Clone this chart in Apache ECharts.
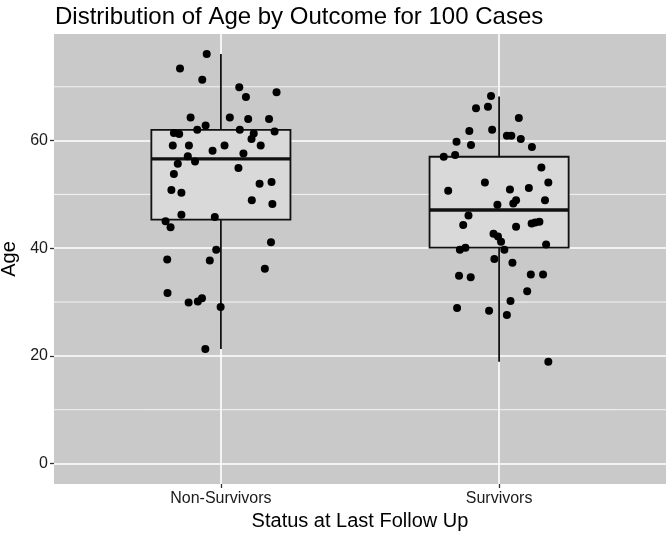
<!DOCTYPE html>
<html>
<head>
<meta charset="utf-8">
<script src="https://cdn.jsdelivr.net/npm/echarts@6/dist/echarts.min.js"></script>
<style>
html,body{margin:0;padding:0;background:#fff;}
#chart{width:666px;height:535px;}
</style>
</head>
<body>
<div id="chart"></div>
<script>
const categories = ['Non-Survivors', 'Survivors'];
const categoryPos = [1, 2];

// Non-Survivors: jittered x position (category units) and age
const nsJitter = [0.949,0.853,0.933,1.066,1.200,1.090,0.891,1.032,1.098,1.173,
  0.945,0.915,1.068,0.831,0.850,1.118,1.193,1.110,0.827,0.885,
  1.013,1.143,0.970,1.081,0.881,0.907,0.845,1.063,0.831,1.139,
  1.182,0.822,0.858,1.111,1.185,0.858,0.978,0.801,0.819,1.180,
  0.983,0.807,0.960,1.158,0.808,0.884,0.917,0.932,0.999,0.944];
const nsAge = [76.1,73.4,71.3,69.9,69.0,68.1,64.3,64.3,64.0,64.0,
  62.8,62.0,62.0,61.4,61.2,61.3,61.7,60.3,59.1,59.1,
  59.1,59.1,58.1,57.6,57.1,56.1,55.7,54.9,53.8,52.0,
  52.3,50.8,50.3,48.9,48.2,46.2,45.8,45.0,43.9,41.1,
  39.7,37.9,37.7,36.2,31.7,29.9,30.1,30.7,29.1,21.3];

// Survivors
const sJitter = [1.971,1.917,1.960,2.071,1.893,1.975,2.028,2.044,2.078,1.847,
  1.899,2.118,1.801,1.842,2.152,1.949,2.177,1.817,2.039,2.107,
  2.061,2.051,2.165,1.994,1.890,1.871,2.061,2.117,2.130,2.145,
  1.980,1.996,2.007,2.169,1.859,1.879,2.019,1.983,2.048,1.856,
  1.898,2.114,2.158,2.101,2.041,1.849,1.964,2.028,2.177];
const sAge = [68.3,66.0,66.3,64.2,61.8,62.0,60.9,60.9,60.3,59.8,
  59.2,58.8,57.0,57.3,55.0,52.2,52.2,50.7,50.9,51.2,
  48.9,48.3,48.9,48.1,46.1,44.3,44.0,44.6,44.8,44.9,
  42.7,42.2,41.2,40.7,39.7,40.1,39.7,38.0,37.3,34.9,
  34.6,35.1,35.1,32.0,30.2,28.9,28.4,27.6,18.9];

// box stats: [min, q1, median, q3, max]
const boxNS = [21.3, 45.3, 56.6, 62.0, 76.1];
const boxS  = [18.9, 40.1, 47.1, 57.0, 68.2];

const yMajor = [0, 20, 40, 60];
const yMinor = [10, 30, 50, 70];

const chart = echarts.init(document.getElementById('chart'), null, {renderer: 'canvas'});

const FONT = '"Liberation Sans", Arial, sans-serif';

function renderBox(params, api) {
  const x = api.value(0), lo = api.value(1), q1 = api.value(2), med = api.value(3), q3 = api.value(4), hi = api.value(5);
  const hw = 0.25;
  const tl = api.coord([x - hw, q3]);
  const br = api.coord([x + hw, q1]);
  const mL = api.coord([x - hw, med]);
  const mR = api.coord([x + hw, med]);
  const pHi = api.coord([x, hi]), pQ3 = api.coord([x, q3]), pQ1 = api.coord([x, q1]), pLo = api.coord([x, lo]);
  return {
    type: 'group',
    children: [
      {type: 'line', shape: {x1: pHi[0], y1: pHi[1], x2: pQ3[0], y2: pQ3[1]}, style: {stroke: '#111', lineWidth: 1.8}},
      {type: 'line', shape: {x1: pQ1[0], y1: pQ1[1], x2: pLo[0], y2: pLo[1]}, style: {stroke: '#111', lineWidth: 1.8}},
      {type: 'rect', shape: {x: tl[0], y: tl[1], width: br[0] - tl[0], height: br[1] - tl[1]}, style: {fill: '#d9d9d9', stroke: '#111', lineWidth: 1.8}},
      {type: 'line', shape: {x1: mL[0], y1: mL[1], x2: mR[0], y2: mR[1]}, style: {stroke: '#111', lineWidth: 3.4}}
    ]
  };
}

function renderMinor(params, api) {
  const v = api.value(1);
  const a = api.coord([0.4, v]);
  const b = api.coord([2.6, v]);
  return {type: 'line', shape: {x1: a[0], y1: a[1], x2: b[0], y2: b[1]}, style: {stroke: '#ffffff', lineWidth: 0.8}};
}

const option = {
  animation: false,
  backgroundColor: '#ffffff',
  textStyle: {fontFamily: FONT},
  title: {
    text: 'Distribution of Age by Outcome for 100 Cases',
    left: 50, top: 0,
    textStyle: {fontFamily: FONT, fontSize: 24, fontWeight: 'normal', color: '#000'}
  },
  grid: {left: 54, right: 0, top: 34, bottom: 51, show: true, backgroundColor: '#c9c9c9', borderWidth: 0, outerBoundsMode: 'none'},
  xAxis: {
    type: 'value', min: 0.4, max: 2.6,
    name: 'Status at Last Follow Up', nameLocation: 'middle', nameGap: 27,
    nameTextStyle: {fontFamily: FONT, fontSize: 20, color: '#000'},
    axisLine: {show: false, onZero: false},
    axisTick: {show: true, customValues: categoryPos, length: 4, lineStyle: {color: '#333', width: 1.3}},
    axisLabel: {customValues: categoryPos, formatter: v => categories[Math.round(v) - 1], fontFamily: FONT, fontSize: 16, color: '#1a1a1a', margin: 7},
    splitLine: {show: true, lineStyle: {color: '#ffffff', width: 1.6}}
  },
  yAxis: {
    type: 'value', min: -3.8, max: 79.8,
    name: 'Age', nameLocation: 'middle', nameGap: 29, nameRotate: 90,
    nameTextStyle: {fontFamily: FONT, fontSize: 20, color: '#000'},
    axisLine: {show: false, onZero: false},
    axisTick: {show: true, customValues: yMajor, length: 4, lineStyle: {color: '#333', width: 1.3}},
    axisLabel: {customValues: yMajor, fontFamily: FONT, fontSize: 16, color: '#1a1a1a', margin: 6},
    splitLine: {show: true, lineStyle: {color: '#ffffff', width: 1.6}}
  },
  series: [
    {
      type: 'custom', renderItem: renderMinor, silent: true, z: 0,
      data: yMinor.map(v => [1, v])
    },
    {
      type: 'custom', renderItem: renderBox, z: 2,
      data: [[categoryPos[0]].concat(boxNS), [categoryPos[1]].concat(boxS)],
      encode: {x: 0, y: [1, 2, 3, 4, 5]}
    },
    {
      type: 'scatter', z: 3, symbolSize: 8,
      itemStyle: {color: '#000', opacity: 1},
      data: nsJitter.map((x, i) => [x, nsAge[i]]).concat(sJitter.map((x, i) => [x, sAge[i]]))
    }
  ]
};
chart.setOption(option);
</script>
</body>
</html>
